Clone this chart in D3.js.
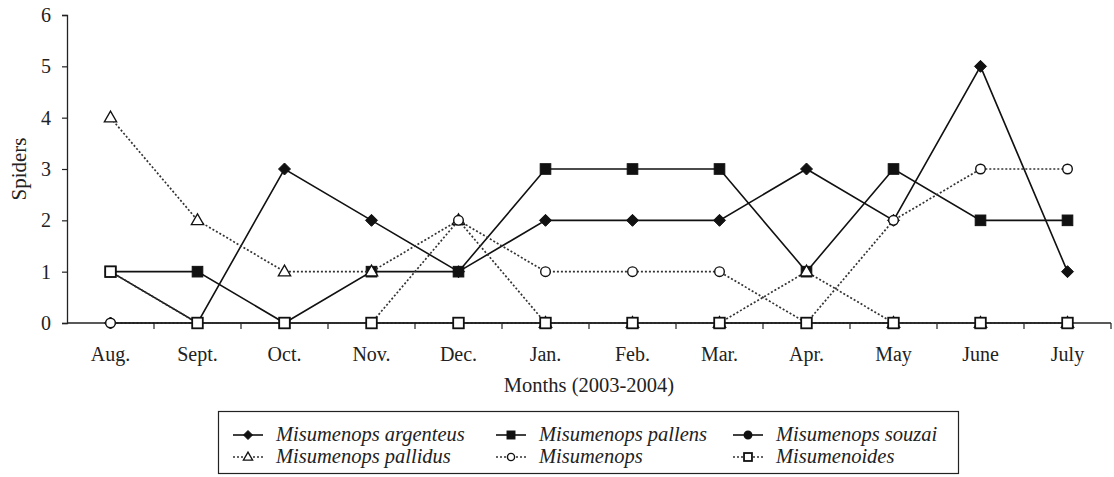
<!DOCTYPE html>
<html><head><meta charset="utf-8">
<script src="https://cdn.jsdelivr.net/npm/d3@7"></script>
<style>body{margin:0;background:#fff}svg{display:block}text{font-family:"Liberation Serif","DejaVu Serif",serif;fill:#222}</style>
</head><body><svg id="c" width="1114" height="477"></svg>
<script>
const months = ["Aug.","Sept.","Oct.","Nov.","Dec.","Jan.","Feb.","Mar.","Apr.","May","June","July"];
const yTicks = [0,1,2,3,4,5,6];
const argenteus   = [0,0,3,2,1,2,2,2,3,2,5,1];
const pallens     = [1,1,0,1,1,3,3,3,1,3,2,2];
const souzai      = [1,0,0,0,0,0,0,0,0,0,0,0];
const pallidus    = [4,2,1,1,2,0,0,0,1,0,0,0];
const misumenops  = [0,0,0,0,2,1,1,1,0,2,3,3];
const misumenoides= [1,0,0,0,0,0,0,0,0,0,0,0];
const seriesNames = ["Misumenops argenteus","Misumenops pallens","Misumenops souzai","Misumenops pallidus","Misumenops","Misumenoides"];

const series = [
 {name:seriesNames[0], values:argenteus, sym:"diamond", fill:"#111", dash:null},
 {name:seriesNames[1], values:pallens, sym:"square", fill:"#111", dash:null},
 {name:seriesNames[2], values:souzai, sym:"circle", fill:"#111", dash:null},
 {name:seriesNames[3], values:pallidus, sym:"triangle", fill:"#fff", dash:"2,2"},
 {name:seriesNames[4], values:misumenops, sym:"circle", fill:"#fff", dash:"2,2"},
 {name:seriesNames[5], values:misumenoides, sym:"square", fill:"#fff", dash:"2,2"}
];

const svg = d3.select("#c");
const x = d3.scaleBand().domain(months).range([67,1111]);
const y = d3.scaleLinear().domain([0,6]).range([323,15]);
const cx = m => x(m)+x.bandwidth()/2;

// axes
const gx = svg.append("g").attr("transform","translate(0,323)")
  .call(d3.axisBottom(x).tickSize(0).tickPadding(24));
gx.select(".domain").remove();
gx.attr("font-family",null).attr("font-size",null);
gx.selectAll("text").attr("font-size",20).attr("fill","#222");
// boundary ticks
svg.append("g").selectAll("line").data(months).join("line")
  .attr("x1",d=>x(d)+x.bandwidth()).attr("x2",d=>x(d)+x.bandwidth())
  .attr("y1",323).attr("y2",329).attr("stroke","#222").attr("stroke-width",1.2);
svg.append("line").attr("x1",67).attr("x2",1111).attr("y1",323).attr("y2",323).attr("stroke","#222").attr("stroke-width",1.3);

const gy = svg.append("g").attr("transform","translate(67,0)")
  .call(d3.axisLeft(y).tickValues(yTicks).tickSize(5).tickPadding(11).tickFormat(d3.format("d")));
gy.attr("font-family",null).attr("font-size",null);
gy.select(".domain").attr("stroke","#222").attr("stroke-width",1.3);
gy.selectAll(".tick line").attr("stroke","#222").attr("stroke-width",1.2);
gy.selectAll("text").attr("font-size",20).attr("fill","#222");

svg.append("text").attr("transform","translate(26,169) rotate(-90)").attr("text-anchor","middle")
  .attr("font-size",21).text("Spiders");
svg.append("text").attr("x",589).attr("y",392).attr("text-anchor","middle").attr("font-size",20.5).text("Months (2003-2004)");

function drawSym(g, s, px, py, scale){
  scale = scale||1;
  if(s.sym==="diamond"){
    const r=6*scale;
    g.append("path").attr("d",`M${px},${py-r}L${px+r},${py}L${px},${py+r}L${px-r},${py}Z`).attr("fill",s.fill).attr("stroke","#111").attr("stroke-width",1);
  } else if(s.sym==="square"){
    const h=5.3*scale;
    g.append("rect").attr("x",px-h).attr("y",py-h).attr("width",2*h).attr("height",2*h)
      .attr("fill",s.fill).attr("stroke","#111").attr("stroke-width",s.fill==="#fff"?1.8:1);
  } else if(s.sym==="circle"){
    g.append("circle").attr("cx",px).attr("cy",py).attr("r",(s.fill==="#fff"?4.8:5)*scale).attr("fill",s.fill).attr("stroke","#111").attr("stroke-width",1.4);
  } else if(s.sym==="triangle"){
    const r=6.5*scale;
    g.append("path").attr("d",`M${px},${py-r}L${px+r*0.95},${py+r*0.65}L${px-r*0.95},${py+r*0.65}Z`).attr("fill",s.fill).attr("stroke","#111").attr("stroke-width",1.3);
  }
}

const line = d3.line().x((d,i)=>cx(months[i])).y(d=>y(d));
series.forEach(s=>{
  const g = svg.append("g");
  g.append("path").attr("d",line(s.values)).attr("fill","none")
    .attr("stroke",s.dash?"#333":"#111").attr("stroke-width",s.dash?1.7:1.6)
    .attr("stroke-dasharray",s.dash);
  s.values.forEach((v,i)=>drawSym(g,s,cx(months[i]),y(v)));
});

// legend
const lg = svg.append("g");
lg.append("rect").attr("x",218.5).attr("y",411.5).attr("width",740).attr("height",62)
  .attr("fill","#fff").attr("stroke","#222").attr("stroke-width",1.2);
const colX = [233,496,733];
const rowY = [435,457];
series.forEach((s,i)=>{
  const c=i%3, r=Math.floor(i/3);
  const x0=colX[c], yy=rowY[r];
  lg.append("line").attr("x1",x0).attr("x2",x0+30).attr("y1",yy).attr("y2",yy)
    .attr("stroke",s.dash?"#333":"#111").attr("stroke-width",s.dash?1.5:1.6).attr("stroke-dasharray",s.dash);
  drawSym(lg,s,x0+15,yy,0.75);
  lg.append("text").attr("x",x0+43).attr("y",yy+6).attr("font-size",20.5).attr("font-style","italic").text(s.name);
});
</script></body></html>
